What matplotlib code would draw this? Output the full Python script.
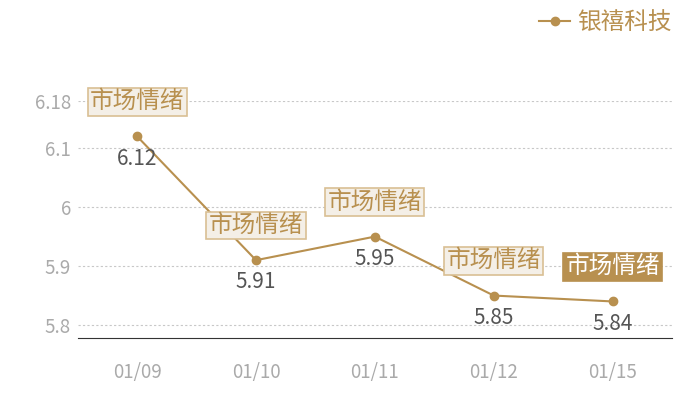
import matplotlib.pyplot as plt

plt.rcParams['font.family'] = ['Noto Sans CJK SC', 'DejaVu Sans']

dates = ['01/09', '01/10', '01/11', '01/12', '01/15']
prices = [6.12, 5.91, 5.95, 5.85, 5.84]
yticks = [5.8, 5.9, 6.0, 6.1, 6.18]
ytick_labels = ['5.8', '5.9', '6', '6.1', '6.18']
tag = '市场情绪'
series_name = '银禧科技'

gold = '#b8904f'

fig = plt.figure(figsize=(7, 4), dpi=100)
ax = fig.add_axes([0.111, 0.155, 0.849, 0.5925])

x = list(range(len(dates)))
ax.plot(x, prices, color=gold, lw=1.5, marker='o', ms=6, label=series_name)

for i, v in enumerate(prices):
    ax.annotate(f'{v:g}', (i, v), xytext=(0, -16), textcoords='offset points',
                ha='center', va='center', fontsize=15, color='#555555')
    last = i == len(prices) - 1
    ax.annotate(tag, (i, v), xytext=(0, 25), textcoords='offset points',
                ha='center', va='center', fontsize=17,
                color='white' if last else gold,
                bbox=dict(boxstyle='square,pad=0.1',
                          fc=gold if last else '#f4efe7',
                          ec=gold if last else '#d9bf94', lw=1.2))

ax.set_xlim(-0.5, len(dates) - 0.5)
ax.set_ylim(5.778, 6.18)
ax.set_xticks(x)
ax.set_xticklabels(dates)
ax.set_yticks(yticks)
ax.set_yticklabels(ytick_labels)
ax.tick_params(length=0, labelsize=13.5, colors='#aaaaaa')
ax.tick_params(axis='y', pad=5)
ax.tick_params(axis='x', pad=17)
ax.grid(axis='y', ls=(0, (2, 2)), color='#c8c8c8', lw=0.8)
for s in ['top', 'right', 'left']:
    ax.spines[s].set_visible(False)
ax.spines['bottom'].set_color('#333333')

leg = fig.legend(loc='upper right', bbox_to_anchor=(0.99, 1.025), frameon=False,
                 fontsize=17, handlelength=1.3, handletextpad=0.3)
for t in leg.get_texts():
    t.set_color(gold)

fig.savefig('out.png')
